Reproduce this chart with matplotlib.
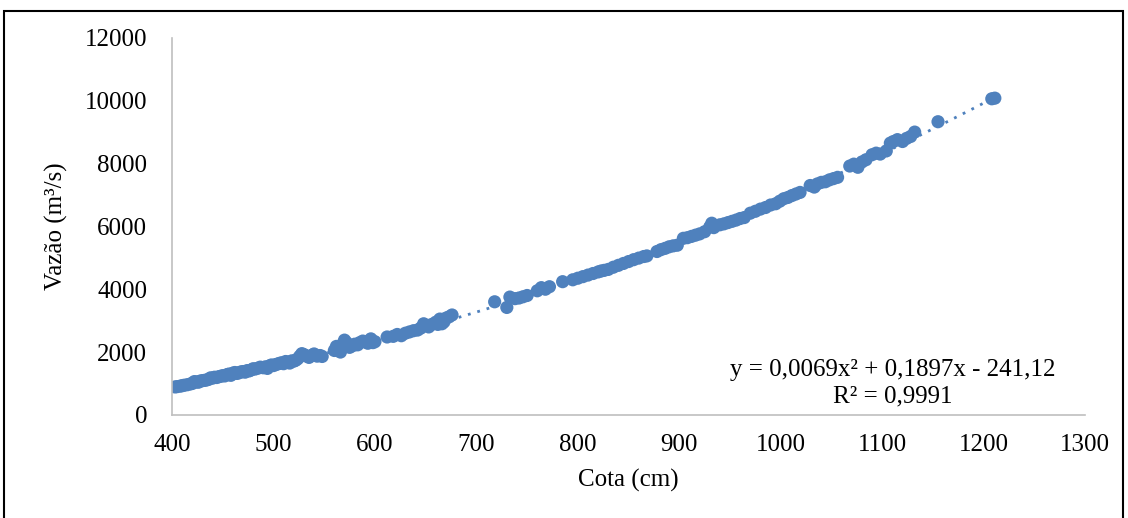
import matplotlib.pyplot as plt
import matplotlib.patches as patches
import numpy as np

plt.rcParams['font.family'] = ['Liberation Serif', 'DejaVu Serif']

# Cota (cm) and Vazão (m3/s)
cota = [403, 405, 408, 410, 412, 415, 418, 420, 422, 424, 426, 428, 430, 432, 434, 436,
        438, 440, 442, 444, 446, 448, 450, 452, 454, 456, 458, 460, 462, 464, 466, 468,
        470, 472, 474, 476, 478, 480, 482, 485, 487, 490, 492, 494, 496, 498, 500, 502,
        504, 506, 508, 510, 512, 514, 516, 518, 520, 522, 524, 526, 528, 530, 532, 535,
        538, 540, 543, 546, 548,
        560, 562, 564, 566, 568, 570, 572, 575, 578, 580, 583, 585, 588, 590, 593, 596, 598, 600,
        612, 618, 622, 626, 630, 634, 638, 642, 645, 648, 650, 653, 656, 660, 662, 664, 666,
        668, 670, 673, 676,
        718, 730, 733, 738, 742, 746, 750, 760, 764, 768, 772, 785, 795, 800, 805, 810, 815,
        820, 823, 826, 830, 835, 840, 845, 850, 855, 860, 865, 868, 878, 882, 886, 890, 894,
        898, 904, 908, 912, 916, 920, 925, 930, 932, 934, 940, 944, 948, 952, 956, 960, 964,
        970, 975, 980, 985, 990, 995, 999, 1003, 1007, 1011, 1015, 1019, 1029, 1033, 1036,
        1040, 1044, 1048, 1052, 1056, 1068, 1072, 1076, 1080, 1084, 1090, 1094, 1098, 1104,
        1108, 1111, 1115, 1120, 1124, 1128, 1132, 1155, 1208, 1211]
vazao = [890, 900, 915, 930, 945, 960, 985, 1000, 1060, 1050, 1040, 1080, 1090, 1100, 1110, 1130,
         1180, 1170, 1200, 1190, 1215, 1230, 1250, 1240, 1280, 1300, 1260, 1330, 1350, 1320, 1340, 1370,
         1380, 1360, 1410, 1400, 1430, 1470, 1460, 1490, 1520, 1500, 1530, 1480, 1560, 1590, 1570, 1600,
         1620, 1640, 1660, 1630, 1700, 1680, 1650, 1720, 1710, 1740, 1790, 1870, 1950, 1920, 1880, 1830,
         1900, 1940, 1870, 1890, 1860,
         2050, 2180, 2100, 2000, 2250, 2380, 2300, 2150, 2200, 2250, 2230, 2300, 2350, 2330, 2280, 2420, 2300, 2330,
         2480, 2500, 2560, 2520, 2600, 2640, 2680, 2700, 2760, 2900, 2850, 2800, 2880, 2950, 2880, 3050, 2900,
         2960, 3080, 3120, 3180,
         3600, 3420, 3750, 3700, 3720, 3760, 3800, 3950, 4050, 4000, 4080, 4240, 4300, 4350, 4400, 4450, 4500,
         4550, 4580, 4600, 4630, 4700, 4760, 4820, 4880, 4940, 4990, 5040, 5060, 5200, 5260, 5300, 5350, 5380,
         5400, 5620, 5640, 5680, 5720, 5760, 5830, 5980, 6100, 5960, 6050, 6080, 6120, 6160, 6200, 6250, 6280,
         6420, 6480, 6550, 6600, 6680, 6720, 6800, 6880, 6920, 6980, 7030, 7080, 7300, 7250, 7350,
         7400, 7420, 7480, 7520, 7560, 7920, 7980, 7880, 8050, 8120, 8280, 8330, 8300, 8400,
         8650, 8700, 8760, 8700, 8800, 8860, 9000, 9330, 10060, 10080]

# trendline coefficients shown on the chart
coef = [0.0069, 0.1897, -241.12]

blue = '#4F81BD'

fig = plt.figure(figsize=(11.28, 5.18), dpi=100)
ax = fig.add_axes([0.1525, 0.199, 0.8095, 0.728])

xt = np.linspace(min(cota), max(cota), 300)
ax.plot(xt, np.polyval(coef, xt), color=blue, lw=2, linestyle=(0, (1, 2.5)), zorder=1)
ax.scatter(cota, vazao, s=90, color=blue, edgecolors='none', zorder=2)

ax.set_xlim(400, 1300)
ax.set_ylim(0, 12000)
ax.set_xticks(range(400, 1301, 100))
ax.set_yticks(range(0, 12001, 2000))

for s in ['top', 'right']:
    ax.spines[s].set_visible(False)
for s in ['left', 'bottom']:
    ax.spines[s].set_color('#BFBFBF')
    ax.spines[s].set_linewidth(1.2)
ax.tick_params(axis='both', length=0, labelsize=18)
ax.tick_params(axis='y', pad=18)
ax.tick_params(axis='x', pad=14)

ax.set_xlabel('Cota (cm)', fontsize=18, labelpad=9)
ax.set_ylabel('Vazão (m³/s)', fontsize=18, labelpad=12)

ax.text(1110, 1433, 'y = 0,0069x² + 0,1897x - 241,12', fontsize=18, ha='center', va='center')
ax.text(1110, 573, 'R² = 0,9991', fontsize=18, ha='center', va='center')

fig.add_artist(patches.Rectangle((4 / 1128, -0.05), 1119 / 1128, 1.05 - 11 / 518,
                                 transform=fig.transFigure, fill=False,
                                 edgecolor='black', lw=1.5, clip_on=False))

fig.savefig('out.png', dpi=100)
